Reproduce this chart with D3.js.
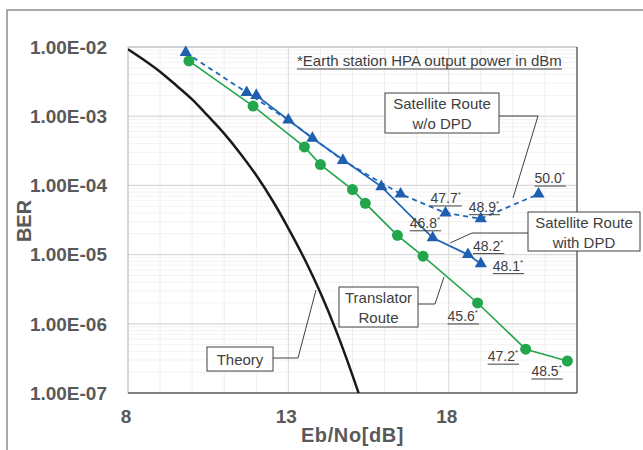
<!DOCTYPE html>
<html>
<head>
<meta charset="utf-8">
<script src="https://cdn.jsdelivr.net/npm/d3@7"></script>
<style>
  body { margin: 0; background: #fff; }
  svg { display: block; }
  text { font-family: "Liberation Sans", Arial, sans-serif; }
</style>
</head>
<body>
<svg id="chart" width="643" height="450"></svg>
<script>
// ---- data ----
const theoryEbNo = [8, 8.5, 9, 9.5, 10, 10.5, 11, 11.5, 12, 12.5, 13, 13.5, 14, 14.5, 15, 15.5];
const theoryBer  = [9.3e-3, 6.5e-3, 4.4e-3, 2.8e-3, 1.75e-3, 1.0e-3, 5.6e-4, 2.9e-4, 1.4e-4, 6.1e-5, 2.4e-5, 8.7e-6, 2.8e-6, 7.7e-7, 1.8e-7, 3.7e-8];

const translatorEbNo = [9.9, 11.9, 13.5, 14.0, 15.0, 15.4, 16.4, 17.2, 18.9, 20.4, 21.7];
const translatorBer  = [6.3e-3, 1.4e-3, 3.6e-4, 2.0e-4, 8.7e-5, 5.5e-5, 1.9e-5, 9.5e-6, 2.0e-6, 4.3e-7, 2.9e-7];

const noDpdEbNo = [9.8, 11.7, 13.0, 14.7, 16.5, 17.9, 19.0, 20.8];
const noDpdBer  = [8.3e-3, 2.2e-3, 8.8e-4, 2.3e-4, 7.5e-5, 4.0e-5, 3.3e-5, 7.5e-5];

const dpdEbNo = [12.0, 13.75, 15.9, 17.5, 18.6, 19.0];
const dpdBer  = [2.0e-3, 4.8e-4, 9.6e-5, 1.75e-5, 1.0e-5, 7.4e-6];

const xTicks = [8, 13, 18];
const yTicks = [1e-2, 1e-3, 1e-4, 1e-5, 1e-6, 1e-7];
const yTickLabels = ["1.00E-02", "1.00E-03", "1.00E-04", "1.00E-05", "1.00E-06", "1.00E-07"];

// HPA output power labels: series, point index, text
const powerLabels = [
  ["noDpd", 5, "47.7"], ["noDpd", 6, "48.9"], ["noDpd", 7, "50.0"],
  ["dpd", 3, "46.8"], ["dpd", 4, "48.2"], ["dpd", 5, "48.1"],
  ["translator", 8, "45.6"], ["translator", 9, "47.2"], ["translator", 10, "48.5"]
];

// ---- layout ----
const svg = d3.select("#chart");
const margin = { left: 128, top: 47 };
const width = 449, height = 346;

const x = d3.scaleLinear().domain([8, 22]).range([0, width]);
const y = d3.scaleLog().domain([1e-7, 1e-2]).range([height, 0]);

const gray = "#595959";
const textCol = "#404040";
const green = "#22a54b";
const blue = "#1f66b8";

svg.append("rect").attr("width", 643).attr("height", 450).attr("fill", "#fff");

// outer chart frame (cropped at right/bottom)
svg.append("path")
  .attr("d", "M7,450 L7,10 L643,10")
  .attr("fill", "none").attr("stroke", "#8c8c8c").attr("stroke-width", 1.5);

const g = svg.append("g").attr("transform", `translate(${margin.left},${margin.top})`);

// gridlines
const minorY = [];
for (let e = -7; e < -2; e++) for (let m = 2; m <= 9; m++) minorY.push(m * Math.pow(10, e));
g.append("g").selectAll("line").data(minorY).join("line")
  .attr("x1", 0).attr("x2", width)
  .attr("y1", d => y(d)).attr("y2", d => y(d))
  .attr("stroke", "#f2f2f2").attr("stroke-width", 1);

const xGrid = d3.range(9, 22);
g.append("g").selectAll("line").data(xGrid).join("line")
  .attr("x1", d => x(d)).attr("x2", d => x(d))
  .attr("y1", 0).attr("y2", height)
  .attr("stroke", d => xTicks.includes(d) ? "#d9d9d9" : "#efefef").attr("stroke-width", 1);

g.append("g").selectAll("line").data(yTicks.slice(1, -1)).join("line")
  .attr("x1", 0).attr("x2", width)
  .attr("y1", d => y(d)).attr("y2", d => y(d))
  .attr("stroke", "#d9d9d9").attr("stroke-width", 1.2);

// plot frame
g.append("line").attr("x1", 0).attr("x2", width).attr("y1", 0).attr("y2", 0)
  .attr("stroke", "#a6a6a6").attr("stroke-width", 1.2);
g.append("line").attr("x1", width).attr("x2", width).attr("y1", 0).attr("y2", height)
  .attr("stroke", "#404040").attr("stroke-width", 1.2);
g.append("line").attr("x1", 0).attr("x2", 0).attr("y1", 0).attr("y2", height)
  .attr("stroke", "#bfbfbf").attr("stroke-width", 1.2);
g.append("line").attr("x1", 0).attr("x2", width).attr("y1", height).attr("y2", height)
  .attr("stroke", gray).attr("stroke-width", 1.5);

// tick labels
g.append("g").selectAll("text").data(yTicks).join("text")
  .attr("x", -21).attr("y", d => y(d)).attr("dy", "0.36em")
  .attr("text-anchor", "end").attr("font-size", 19).attr("font-weight", "bold")
  .attr("fill", gray).text((d, i) => yTickLabels[i]);

g.append("g").selectAll("text").data(xTicks).join("text")
  .attr("x", d => x(d) - 2).attr("y", height + 30)
  .attr("text-anchor", "middle").attr("font-size", 19).attr("font-weight", "bold")
  .attr("fill", gray).text(d => d);

// axis titles
g.append("text").attr("x", width / 2).attr("y", height + 49)
  .attr("text-anchor", "middle").attr("font-size", 20).attr("font-weight", "bold")
  .attr("letter-spacing", 0.6).attr("fill", gray).text("Eb/No[dB]");
svg.append("text").attr("transform", "translate(31,221) rotate(-90)")
  .attr("text-anchor", "middle").attr("font-size", 20).attr("font-weight", "bold")
  .attr("fill", gray).text("BER");

// clip
svg.append("clipPath").attr("id", "plotClip").append("rect")
  .attr("width", width).attr("height", height);
const plot = g.append("g").attr("clip-path", "url(#plotClip)");

// theory curve
const theory = theoryEbNo.map((v, i) => [v, theoryBer[i]]);
plot.append("path").datum(theory)
  .attr("d", d3.line().x(d => x(d[0])).y(d => y(d[1])).curve(d3.curveMonotoneX))
  .attr("fill", "none").attr("stroke", "#1a1a1a").attr("stroke-width", 2.5);

const series = {
  translator: translatorEbNo.map((v, i) => [v, translatorBer[i]]),
  noDpd: noDpdEbNo.map((v, i) => [v, noDpdBer[i]]),
  dpd: dpdEbNo.map((v, i) => [v, dpdBer[i]])
};
const line = d3.line().x(d => x(d[0])).y(d => y(d[1]));

g.append("path").datum(series.translator).attr("d", line)
  .attr("fill", "none").attr("stroke", green).attr("stroke-width", 1.6);
g.append("path").datum(series.dpd).attr("d", line)
  .attr("fill", "none").attr("stroke", blue).attr("stroke-width", 1.8);
g.append("path").datum(series.noDpd).attr("d", line)
  .attr("fill", "none").attr("stroke", blue).attr("stroke-width", 1.8)
  .attr("stroke-dasharray", "5,4");

g.append("g").selectAll("circle").data(series.translator).join("circle")
  .attr("cx", d => x(d[0])).attr("cy", d => y(d[1])).attr("r", 5.5)
  .attr("fill", green);

const tri = d3.symbol().type(d3.symbolTriangle).size(64);
g.append("g").selectAll("path").data(series.noDpd.concat(series.dpd)).join("path")
  .attr("d", tri)
  .attr("transform", d => `translate(${x(d[0])},${y(d[1])})`)
  .attr("fill", "#1f5fb0");

// power labels (underlined, with superscript *)
const labelOffsets = [[-15, -10], [-12, -7], [-4, -11], [-23, -10], [5, -4], [12, 7], [-30, 18], [-38, 12], [-36, 15]];
powerLabels.forEach(([s, idx, txt], i) => {
  const p = series[s][idx];
  const lx = x(p[0]) + labelOffsets[i][0];
  const ly = y(p[1]) + labelOffsets[i][1];
  const t = g.append("text").attr("x", lx).attr("y", ly)
    .attr("font-size", 14).attr("fill", textCol);
  t.append("tspan").text(txt);
  t.append("tspan").attr("font-size", 8).attr("dy", -6).text("*");
  const w = t.node().getComputedTextLength();
  g.append("line").attr("x1", lx).attr("x2", lx + w + 1)
    .attr("y1", ly + 3).attr("y2", ly + 3)
    .attr("stroke", textCol).attr("stroke-width", 1);
});

// note at top
const note = svg.append("text").attr("x", 297).attr("y", 66)
  .attr("font-size", 15).attr("fill", textCol)
  .text("*Earth station HPA output power in dBm");
const nw = note.node().getComputedTextLength();
svg.append("line").attr("x1", 297).attr("x2", 297 + nw).attr("y1", 69).attr("y2", 69)
  .attr("stroke", textCol).attr("stroke-width", 1);

// callouts
const callouts = [
  { box: [385, 93, 114, 40], lines: ["Satellite Route", "w/o DPD"], leader: [[499, 116], [538, 116], [513, 198]] },
  { box: [528, 212, 112, 39], lines: ["Satellite Route", "with DPD"], leader: [[528, 233], [472, 233], [450, 243]] },
  { box: [339, 287, 79, 40], lines: ["Translator", "Route"], leader: [[418, 304], [435, 304], [444, 277]] },
  { box: [207, 347, 66, 24], lines: ["Theory"], leader: [[273, 358], [298, 358], [316, 290]] }
];
callouts.forEach(c => {
  svg.append("path").attr("d", d3.line()(c.leader))
    .attr("fill", "none").attr("stroke", textCol).attr("stroke-width", 1);
  svg.append("rect").attr("x", c.box[0]).attr("y", c.box[1])
    .attr("width", c.box[2]).attr("height", c.box[3])
    .attr("fill", "#fff").attr("stroke", textCol).attr("stroke-width", 1);
  c.lines.forEach((l, i) => {
    svg.append("text").attr("x", c.box[0] + c.box[2] / 2)
      .attr("y", c.box[1] + (c.lines.length === 1 ? 17.5 : 16 + i * 19.5))
      .attr("text-anchor", "middle").attr("font-size", 15).attr("fill", textCol).text(l);
  });
});
</script>
</body>
</html>
